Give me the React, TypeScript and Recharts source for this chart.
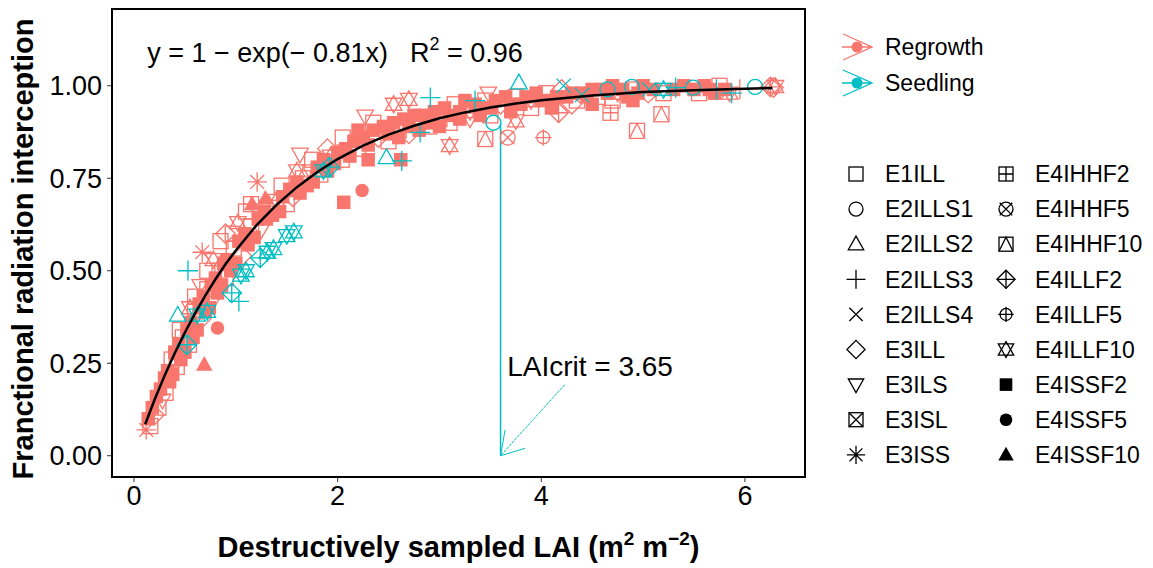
import React from 'react';
import { ScatterChart, Scatter, XAxis, YAxis, ReferenceLine, ReferenceDot } from 'recharts';

// [LAI, fraction, shape index]
const regrowthBand: [number, number, number][] = [
  [0.12, 0.07, 8], [0.14, 0.1, 15], [0.16, 0.08, 0], [0.18, 0.13, 15], [0.2, 0.11, 5], [0.22, 0.16, 15],
  [0.24, 0.13, 0], [0.26, 0.18, 15], [0.28, 0.15, 6], [0.3, 0.21, 15], [0.31, 0.17, 0], [0.33, 0.23, 15],
  [0.35, 0.2, 15], [0.37, 0.26, 0], [0.38, 0.22, 15], [0.4, 0.28, 15], [0.42, 0.24, 0], [0.44, 0.3, 15],
  [0.46, 0.26, 15], [0.48, 0.32, 0], [0.5, 0.28, 15], [0.52, 0.34, 15], [0.54, 0.3, 0], [0.56, 0.36, 15],
  [0.58, 0.32, 15], [0.6, 0.39, 0], [0.62, 0.34, 15], [0.64, 0.41, 15], [0.66, 0.37, 5], [0.68, 0.43, 15],
  [0.7, 0.39, 15], [0.72, 0.45, 0], [0.74, 0.4, 15], [0.76, 0.46, 15], [0.78, 0.42, 6], [0.8, 0.48, 15],
  [0.82, 0.44, 15], [0.84, 0.5, 0], [0.86, 0.46, 15], [0.88, 0.52, 15], [0.9, 0.48, 0], [0.92, 0.53, 15],
  [0.95, 0.5, 15], [0.98, 0.56, 0], [1.0, 0.52, 15], [1.03, 0.58, 15], [1.06, 0.54, 5], [1.09, 0.6, 15],
  [1.12, 0.57, 15], [1.15, 0.62, 0], [1.18, 0.59, 15], [1.22, 0.64, 15], [1.25, 0.61, 6], [1.28, 0.66, 15],
  [0.45, 0.34, 0], [0.55, 0.4, 14], [0.6, 0.43, 0], [0.65, 0.46, 6], [0.72, 0.5, 0], [0.78, 0.53, 14],
  [0.85, 0.58, 0], [0.9, 0.6, 5], [0.97, 0.6, 0], [1.02, 0.63, 14], [1.1, 0.66, 0], [1.15, 0.68, 9],
  [1.3, 0.64, 15], [1.33, 0.67, 0], [1.36, 0.65, 15], [1.4, 0.69, 14], [1.43, 0.66, 15], [1.46, 0.7, 15],
  [1.5, 0.68, 0], [1.53, 0.72, 15], [1.56, 0.7, 5], [1.6, 0.74, 15], [1.63, 0.71, 15], [1.66, 0.75, 0],
  [1.7, 0.73, 15], [1.73, 0.77, 6], [1.76, 0.74, 15], [1.8, 0.78, 15], [1.83, 0.76, 0], [1.86, 0.8, 15],
  [1.9, 0.77, 15], [1.93, 0.81, 14], [1.97, 0.79, 15], [2.0, 0.82, 15], [2.04, 0.8, 0], [2.08, 0.83, 15],
  [2.12, 0.81, 15], [2.16, 0.85, 15], [2.2, 0.83, 0], [2.25, 0.86, 15], [2.3, 0.84, 15], [2.35, 0.88, 15],
  [2.4, 0.86, 5], [2.45, 0.89, 15], [2.5, 0.87, 15], [2.55, 0.9, 15], [2.6, 0.88, 0], [2.65, 0.91, 15],
  [2.7, 0.89, 15], [2.75, 0.92, 15], [2.8, 0.9, 14], [2.85, 0.92, 15], [2.9, 0.9, 15], [2.95, 0.93, 15],
  [3.0, 0.91, 0], [3.05, 0.94, 15], [3.1, 0.92, 15], [3.15, 0.95, 0], [3.2, 0.93, 15], [3.25, 0.96, 15],
  [3.3, 0.93, 14], [3.35, 0.95, 15], [3.4, 0.94, 15], [3.45, 0.96, 0], [3.5, 0.94, 15], [3.55, 0.96, 15],
  [3.6, 0.95, 5], [3.65, 0.97, 15], [3.7, 0.95, 15], [3.75, 0.97, 0], [3.8, 0.95, 15], [3.85, 0.97, 15],
  [3.9, 0.96, 14], [3.95, 0.98, 15], [4.0, 0.96, 15], [4.05, 0.98, 0], [4.1, 0.96, 15], [4.15, 0.97, 15],
  [4.2, 0.99, 5], [4.25, 0.97, 15], [4.3, 0.98, 15], [4.35, 0.96, 0], [4.4, 0.98, 15], [4.45, 0.97, 15],
  [4.5, 0.99, 15], [4.55, 0.97, 0], [4.6, 0.99, 15], [4.65, 0.98, 15], [4.7, 1.0, 15], [4.75, 0.98, 14],
  [4.8, 0.99, 15], [4.85, 0.97, 15], [4.9, 0.99, 0], [4.95, 0.98, 15], [5.0, 1.0, 15], [5.05, 0.98, 5],
  [5.1, 0.99, 15], [5.2, 0.98, 0], [5.3, 0.99, 15], [5.4, 1.0, 15], [5.5, 0.99, 15], [5.55, 0.98, 0],
  [5.6, 1.0, 15], [5.65, 0.99, 15], [5.7, 0.98, 15], [5.75, 1.0, 0], [5.8, 0.99, 15], [5.85, 0.98, 14],
  [5.95, 0.99, 3], [6.25, 0.997, 12], [6.28, 0.995, 5], [6.3, 0.998, 14],
  [2.5, 0.85, 0], [2.6, 0.86, 15], [2.7, 0.87, 5], [2.8, 0.88, 15], [2.9, 0.89, 0], [3.0, 0.89, 15],
  [3.1, 0.9, 0], [3.2, 0.91, 15], [3.3, 0.91, 6], [3.4, 0.92, 15], [3.5, 0.92, 0], [3.7, 0.93, 15],
  [3.9, 0.94, 0], [4.1, 0.94, 15], [4.3, 0.95, 5], [4.5, 0.95, 15], [4.7, 0.96, 0], [4.9, 0.96, 15],
  [1.45, 0.73, 0], [1.6, 0.77, 14], [1.75, 0.8, 0], [1.9, 0.83, 5], [2.05, 0.86, 0], [2.2, 0.88, 15],
  [2.35, 0.9, 0],
];

const regrowthOutliers: [number, number, number][] = [
  [1.21, 0.74, 8], [0.67, 0.55, 8], [1.16, 0.68, 17], [1.29, 0.695, 17], [0.82, 0.345, 16], [0.69, 0.246, 17],
  [1.63, 0.815, 6], [2.27, 0.918, 6], [2.7, 0.963, 14], [2.06, 0.685, 15], [2.24, 0.717, 16], [2.3, 0.8, 15],
  [2.62, 0.8, 15], [3.45, 0.856, 11], [3.1, 0.838, 14], [3.67, 0.86, 10], [3.75, 0.905, 14], [4.02, 0.86, 13],
  [4.17, 0.927, 12], [4.68, 0.927, 9], [4.94, 0.878, 11], [5.18, 0.923, 11], [3.48, 0.98, 6], [2.55, 0.95, 14],
];

const seedlingPts: [number, number, number][] = [
  [0.43, 0.38, 2], [0.53, 0.5, 3], [0.52, 0.3, 12], [0.62, 0.38, 14], [0.72, 0.39, 14], [0.96, 0.44, 12],
  [1.03, 0.417, 3], [1.05, 0.488, 14], [1.1, 0.5, 14], [1.24, 0.535, 12], [1.31, 0.55, 14], [1.37, 0.56, 14],
  [1.5, 0.595, 14], [1.57, 0.605, 14], [1.86, 0.77, 14], [1.92, 0.78, 12], [2.48, 0.806, 2], [2.63, 0.797, 3],
  [2.91, 0.968, 3], [2.81, 0.874, 3], [3.35, 0.96, 3], [3.53, 0.9, 1], [3.78, 1.008, 2], [4.22, 1.0, 4],
  [4.4, 0.975, 4], [4.65, 0.99, 1], [4.89, 0.997, 1], [5.06, 0.99, 4], [5.2, 0.99, 14], [5.32, 0.995, 3],
  [5.49, 0.995, 1], [5.72, 0.99, 3], [5.87, 0.98, 3], [6.1, 0.997, 1],
];

// fitted curve
const curveX = [0.11, 0.2, 0.3, 0.4, 0.5, 0.6, 0.7, 0.8, 0.9, 1.0, 1.2, 1.4, 1.6, 1.8, 2.0, 2.25, 2.5, 2.75, 3.0, 3.25, 3.5, 3.75, 4.0, 4.5, 5.0, 5.5, 6.0, 6.27];
const curveY = [0.085, 0.15, 0.216, 0.277, 0.333, 0.385, 0.433, 0.477, 0.518, 0.555, 0.622, 0.678, 0.726, 0.767, 0.802, 0.838, 0.868, 0.892, 0.912, 0.928, 0.941, 0.952, 0.961, 0.974, 0.983, 0.988, 0.992, 0.994];

const xTicks = [0, 2, 4, 6];
const yTicks = [0, 0.25, 0.5, 0.75, 1];

const groupNames = ['Regrowth', 'Seedling'];
const shapeNames = [
  'E1ILL', 'E2ILLS1', 'E2ILLS2', 'E2ILLS3', 'E2ILLS4', 'E3ILL', 'E3ILS', 'E3ISL', 'E3ISS',
  'E4IHHF2', 'E4IHHF5', 'E4IHHF10', 'E4ILLF2', 'E4ILLF5', 'E4ILLF10', 'E4ISSF2', 'E4ISSF5', 'E4ISSF10',
];

const RED = '#F8766D';
const CYAN = '#00BFC4';
const FONT = '"Liberation Sans", Arial, sans-serif';

const toRows = (pts: [number, number, number][]) => pts.map(([x, y, s]) => ({ x, y, s }));
const curveData = curveX.map((x, i) => ({ x, y: curveY[i] }));

const Glyph = ({ cx, cy, kind, color, r = 7.5 }: { cx: number; cy: number; kind: number; color: string; r?: number }) => {
  const st = { stroke: color, strokeWidth: 1.3, fill: 'none' };
  const up = `${cx},${cy - r * 1.15} ${cx - r * 1.1},${cy + r * 0.8} ${cx + r * 1.1},${cy + r * 0.8}`;
  const down = `${cx},${cy + r * 1.15} ${cx - r * 1.1},${cy - r * 0.8} ${cx + r * 1.1},${cy - r * 0.8}`;
  const dia = `${cx},${cy - r * 1.3} ${cx + r * 1.3},${cy} ${cx},${cy + r * 1.3} ${cx - r * 1.3},${cy}`;
  const box = <rect x={cx - r} y={cy - r} width={2 * r} height={2 * r} {...st} />;
  const plus = (k: number) => `M${cx - r * k},${cy}H${cx + r * k}M${cx},${cy - r * k}V${cy + r * k}`;
  const cross = (k: number) => `M${cx - r * k},${cy - r * k}L${cx + r * k},${cy + r * k}M${cx + r * k},${cy - r * k}L${cx - r * k},${cy + r * k}`;
  switch (kind) {
    case 0: return box;
    case 1: return <circle cx={cx} cy={cy} r={r} {...st} />;
    case 2: return <polygon points={up} {...st} />;
    case 3: return <path d={plus(1.35)} {...st} />;
    case 4: return <path d={cross(0.95)} {...st} />;
    case 5: return <polygon points={dia} {...st} />;
    case 6: return <polygon points={down} {...st} />;
    case 7: return <g>{box}<path d={cross(1)} {...st} /></g>;
    case 8: return <path d={plus(1.3) + cross(0.92)} {...st} />;
    case 9: return <g>{box}<path d={plus(1)} {...st} /></g>;
    case 10: return <g><circle cx={cx} cy={cy} r={r} {...st} /><path d={cross(0.9)} {...st} /></g>;
    case 11: return <g>{box}<path d={`M${cx - r},${cy + r}L${cx},${cy - r}L${cx + r},${cy + r}`} {...st} /></g>;
    case 12: return <g><polygon points={dia} {...st} /><path d={plus(1.3)} {...st} /></g>;
    case 13: return <g><circle cx={cx} cy={cy} r={r * 0.85} {...st} /><path d={plus(1.1)} {...st} /></g>;
    case 14: return <g><polygon points={up} {...st} /><polygon points={down} {...st} /></g>;
    case 15: return <rect x={cx - r * 0.9} y={cy - r * 0.9} width={1.8 * r} height={1.8 * r} fill={color} />;
    case 16: return <circle cx={cx} cy={cy} r={r * 0.9} fill={color} />;
    default: return <polygon points={up} fill={color} />;
  }
};

const pointShape = (color: string) => (p: any) => <Glyph cx={p.cx} cy={p.cy} kind={p.payload.s} color={color} />;
const noShape = () => <g />;

const textDot = (content: React.ReactNode, size = 27) => (p: any) => (
  <text x={p.cx} y={p.cy} fontFamily={FONT} fontSize={size} fill="#000">{content}</text>
);

const ColorKey = ({ cx, cy, color }: { cx: number; cy: number; color: string }) => (
  <g stroke={color} strokeWidth={1.3} fill="none">
    <path d={`M${cx - 15},${cy}H${cx + 15}M${cx - 14},${cy - 13}L${cx + 15},${cy}L${cx - 14},${cy + 13}M${cx + 2},${cy - 6}L${cx + 15},${cy}L${cx + 2},${cy + 6}`} />
    <circle cx={cx} cy={cy} r={5.5} fill={color} stroke="none" />
  </g>
);

const App: React.FC = () => {
  return (
    <div style={{ position: 'absolute', left: 0, top: 0, width: 1153, height: 568, background: '#fff', fontFamily: FONT }}>
      <ScatterChart width={1153} height={568} margin={{ top: 9, right: 348, bottom: 31, left: 12 }}>
        <XAxis
          type="number"
          dataKey="x"
          domain={[-0.216, 6.59]}
          ticks={xTicks}
          axisLine={false}
          tickSize={5}
          tickMargin={4}
          height={60}
          tick={{ fill: '#000', fontSize: 27, fontFamily: FONT }}
          tickLine={{ stroke: '#333' }}
          allowDataOverflow
          label={{
            content: (p: any) => (
              <text x={p.viewBox.x + p.viewBox.width / 2} y={p.viewBox.y + 80} textAnchor="middle" fontFamily={FONT} fontSize={29} fontWeight="bold" fill="#000">
                Destructively sampled LAI (m<tspan dy={-12} fontSize={19}>2</tspan><tspan dy={12}> m</tspan><tspan dy={-12} fontSize={19}>−2</tspan><tspan dy={12}>)</tspan>
              </text>
            ),
          }}
        />
        <YAxis
          type="number"
          dataKey="y"
          domain={[-0.0575, 1.2075]}
          ticks={yTicks}
          axisLine={false}
          tickSize={5}
          tickMargin={5}
          width={100}
          tick={{ fill: '#000', fontSize: 27, fontFamily: FONT }}
          tickLine={{ stroke: '#333' }}
          tickFormatter={(v: number) => v.toFixed(2)}
          allowDataOverflow
          label={{
            content: (p: any) => {
              const cy = p.viewBox.y + p.viewBox.height / 2 + 6;
              return (
                <text x={33} y={cy} transform={`rotate(-90, 33, ${cy})`} textAnchor="middle" fontFamily={FONT} fontSize={29} fontWeight="bold" fill="#000">
                  Franctional radiation interception
                </text>
              );
            },
          }}
        />
        <Scatter data={toRows(regrowthBand)} shape={pointShape(RED)} isAnimationActive={false} />
        <Scatter data={toRows(regrowthOutliers)} shape={pointShape(RED)} isAnimationActive={false} />
        <Scatter data={toRows(seedlingPts)} shape={pointShape(CYAN)} isAnimationActive={false} />
        <Scatter data={curveData} shape={noShape} line={{ stroke: '#000', strokeWidth: 2.5 }} isAnimationActive={false} />
        <ReferenceLine segment={[{ x: 3.6, y: 0 }, { x: 3.6, y: 0.9 }]} stroke={CYAN} strokeWidth={1.5} />
        <ReferenceLine segment={[{ x: 4.23, y: 0.192 }, { x: 3.6, y: 0 }]} stroke={CYAN} strokeWidth={1} strokeDasharray="3 1" />
        <ReferenceLine segment={[{ x: 3.6, y: 0 }, { x: 3.645, y: 0.07 }]} stroke={CYAN} strokeWidth={1} />
        <ReferenceLine segment={[{ x: 3.6, y: 0 }, { x: 3.84, y: 0.02 }]} stroke={CYAN} strokeWidth={1} />
        <ReferenceDot x={0.13} y={1.065} r={0} shape={textDot(<>y = 1 − exp(− 0.81x)</>)} />
        <ReferenceDot x={2.71} y={1.065} r={0} shape={textDot(<>R<tspan dy={-12} fontSize={18}>2</tspan><tspan dy={12}> = 0.96</tspan></>)} />
        <ReferenceDot x={3.665} y={0.216} r={0} shape={textDot(<>LAIcrit = 3.65</>, 28)} />
      </ScatterChart>
      <div style={{ position: 'absolute', left: 110.5, top: 8, width: 695.5, height: 470, border: '2px solid #000', boxSizing: 'border-box', pointerEvents: 'none' }} />
      <svg width={1153} height={568} style={{ position: 'absolute', left: 0, top: 0, pointerEvents: 'none' }}>
        {groupNames.map((g, i) => (
          <g key={g}>
            <ColorKey cx={857} cy={47 + i * 36} color={i === 0 ? RED : CYAN} />
            <text x={885} y={47 + i * 36} dy="0.36em" fontFamily={FONT} fontSize={23} fill="#000">{g}</text>
          </g>
        ))}
        {shapeNames.map((name, i) => {
          const col = Math.floor(i / 9);
          const row = i % 9;
          const cx = col === 0 ? 856 : 1006;
          const cy = 174 + row * 35.1;
          return (
            <g key={name}>
              <Glyph cx={cx} cy={cy} kind={i} color="#000" r={7} />
              <text x={cx + 29} y={cy} dy="0.36em" fontFamily={FONT} fontSize={23} fill="#000">{name}</text>
            </g>
          );
        })}
      </svg>
    </div>
  );
};

export default App;
